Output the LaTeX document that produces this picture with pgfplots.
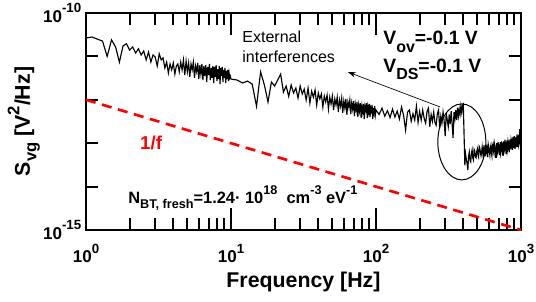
\documentclass[border=0pt]{standalone}
\usepackage{fontspec}
\setmainfont{Liberation Sans}
\usepackage{pgfplots}
\pgfplotsset{compat=1.18}
\usetikzlibrary{arrows.meta}
\newcommand{\SP}[3]{\raisebox{#1}{\fontsize{#2}{#2}\selectfont #3}}
\begin{document}
\begin{tikzpicture}
\begin{axis}[
 scale only axis, width=326.25pt, height=162.75pt,
 xmode=log, ymode=log,
 xmin=1, xmax=1000, ymin=1e-15, ymax=1e-10,
 xtick={1,10,100,1000},
 xticklabels={10\SP{0.55em}{10}{0},10\SP{0.55em}{10}{1},10\SP{0.55em}{10}{2},10\SP{0.55em}{10}{3}},
 ytick={1e-15,1e-14,1e-13,1e-12,1e-11,1e-10},
 yticklabels={10\SP{0.55em}{10}{-15},,,,,10\SP{0.55em}{10}{-10}},
 yminorticks=false,
 tick align=inside,
 xtick style={/pgfplots/major tick length=16.5pt,/pgfplots/minor tick length=9pt},
 ytick style={/pgfplots/major tick length=9pt},
 tick style={line width=1.5pt, black},
 axis line style={line width=1.5pt},
 ticklabel style={font=\fontsize{12.8}{14}\selectfont\bfseries},
 xticklabel style={yshift=-7pt},
 xlabel={Frequency [Hz]},
 ylabel={S\SP{-0.3em}{12.5}{vg} [V\SP{0.5em}{12.5}{2}/Hz]},
 label style={font=\fontsize{16}{18}\selectfont\bfseries},
 xlabel style={at={(axis description cs:0.5,-0.239)}, anchor=center},
 ylabel style={at={(axis description cs:-0.143,0.5)}, anchor=center},
]
\addplot[red, line width=2pt, dash pattern=on 7.5pt off 5pt] coordinates {(1,1e-12) (1000,1e-15)};
\addplot[black, line width=0.85pt] table {
f S
1.0 2.65e-11
1.1 2.8e-11
1.2 2.5e-11
1.3 2.25e-11
1.4 1.0e-11
1.5 2.4e-11
1.6 1.65e-11
1.7 7.4e-12
1.8 1.75e-11
1.9 1.95e-11
2.0 1.4e-11
2.1 1.65e-11
2.2 1.2e-11
2.3 1.5e-11
2.4 1.08e-11
2.5 1.33e-11
2.6 8.3e-12
2.7 1.26e-11
2.8 7.4e-12
2.9 1.08e-11
3.0 9.7e-12
3.1 6.0e-12
3.2 1.15e-11
3.3 8.3e-12
3.4 9.2e-12
3.5 5.4e-12
3.6 7.4e-12
3.7 4.15e-12
3.8 6.7e-12
3.9 4.9e-12
4.0 7.05e-12
4.1 3.9e-12
4.2 6.0e-12
4.3 6.7e-12
4.4 4.4e-12
4.5 7.4e-12
4.6 4.9e-12
4.7 8.3e-12
4.8 3.7e-12
4.9 7.8e-12
5.0 4.4e-12
5.1 7.05e-12
5.2 3.4e-12
5.3 6.7e-12
5.4 4.9e-12
5.5 7.4e-12
5.6 3.2e-12
5.7 6.0e-12
5.8 4.4e-12
5.9 7.05e-12
6.0 3.0e-12
6.1 6.3e-12
6.2 3.9e-12
6.3 6.7e-12
6.4 2.86e-12
6.5 6.0e-12
6.6 3.5e-12
6.7 6.3e-12
6.8 2.57e-12
6.9 5.7e-12
7.0 3.7e-12
7.1 6.7e-12
7.2 2.86e-12
7.3 5.4e-12
7.4 3.2e-12
7.5 6.0e-12
7.6 2.44e-12
7.7 5.7e-12
7.8 3.4e-12
7.9 6.3e-12
8.0 2.7e-12
8.1 5.1e-12
8.2 3.0e-12
8.3 6.0e-12
8.4 2.3e-12
8.5 5.4e-12
8.6 3.5e-12
8.7 5.7e-12
8.8 2.57e-12
8.9 4.9e-12
9.0 3.2e-12
9.1 5.4e-12
9.2 2.44e-12
9.3 4.6e-12
9.4 3.0e-12
9.5 4.9e-12
9.6 2.7e-12
9.7 4.15e-12
9.8 3.2e-12
9.9 3.5e-12
10 3.0e-12
11 2.86e-12
12 2.44e-12
13 2.7e-12
14 2.3e-12
15 7.1e-13
16 4.4e-12
17 2.19e-12
18 8.9e-13
19 2.57e-12
20 2.08e-12
21 2.86e-12
22 3.9e-12
23 1.5e-12
24 2.08e-12
25 1.2e-12
26 2.19e-12
27 1.44e-12
28 1.86e-12
29 1.1e-12
30 2.08e-12
31 1.36e-12
32 1.76e-12
33 9.9e-13
34 1.86e-12
35 8.4e-13
36 1.58e-12
37 1.15e-12
38 1.68e-12
39 7.6e-13
40 1.44e-12
41 1.05e-12
42 1.36e-12
43 6.8e-13
44 1.22e-12
45 8.9e-13
46 1.29e-12
47 6.1e-13
48 1.15e-12
49 8.0e-13
50 1.22e-12
51 5.8e-13
52 1.05e-12
53 7.6e-13
54 1.15e-12
55 5.2e-13
56 9.9e-13
57 7.1e-13
58 1.1e-12
59 5.0e-13
60 9.4e-13
61 6.4e-13
62 1.05e-12
63 4.5e-13
64 8.9e-13
65 6.8e-13
66 9.9e-13
67 4.7e-13
68 8.4e-13
69 6.1e-13
70 9.4e-13
71 4.2e-13
72 8.0e-13
73 5.8e-13
74 8.9e-13
75 4.0e-13
76 7.6e-13
77 5.5e-13
78 8.4e-13
79 3.8e-13
80 7.1e-13
81 5.2e-13
82 8.0e-13
83 3.6e-13
84 7.1e-13
85 5.8e-13
86 8.4e-13
87 3.8e-13
88 6.8e-13
89 5.2e-13
90 8.0e-13
91 4.0e-13
92 6.4e-13
93 5.5e-13
94 7.6e-13
95 3.6e-13
96 6.4e-13
97 5.0e-13
98 7.1e-13
99 4.5e-13
100 5.8e-13
105 4.6e-13
110 6.4e-13
115 4.2e-13
120 5.6e-13
125 3.9e-13
130 6.1e-13
135 4.0e-13
140 5.5e-13
145 3.6e-13
150 6.8e-13
155 4.4e-13
160 2.0e-13
165 5.2e-13
170 5.8e-13
175 3.2e-13
180 4.8e-13
185 3.4e-13
190 7.1e-13
195 3.0e-13
200 5.4e-13
205 3.4e-13
210 5.8e-13
215 3.7e-13
220 2.9e-13
225 5.4e-13
230 6.4e-13
235 2.4e-13
240 4.6e-13
245 3.2e-13
250 5.2e-13
255 3.0e-13
260 2.6e-13
265 4.8e-13
270 5.8e-13
275 2.2e-13
280 4.2e-13
285 2.9e-13
290 5.2e-13
295 3.3e-13
300 1.45e-13
305 5.0e-13
310 3.4e-13
315 2.4e-13
320 4.6e-13
325 2.75e-13
330 5.5e-13
335 2.8e-13
340 1.32e-13
345 5.2e-13
350 3.6e-13
355 5.8e-13
360 3.4e-13
365 6.6e-13
370 4.2e-13
375 6.1e-13
380 4.6e-13
385 7.2e-13
390 5.2e-13
395 7.6e-13
400 8.0e-13
410 3.1e-14
415 5.6e-14
420 4.2e-14
425 3.4e-14
430 2.4e-14
435 5.0e-14
440 6.2e-14
445 4.0e-14
450 3.7e-14
455 5.8e-14
460 7.0e-14
465 4.6e-14
470 4.1e-14
475 7.2e-14
480 6.6e-14
485 4.8e-14
490 4.6e-14
495 6.4e-14
500 7.4e-14
505 5.4e-14
510 4.8e-14
515 8.4e-14
520 7.8e-14
525 6.0e-14
530 5.1e-14
535 6.2e-14
540 8.2e-14
545 6.0e-14
550 4.6e-14
555 9.0e-14
560 7.4e-14
565 5.6e-14
570 5.3e-14
575 8.0e-14
580 8.6e-14
585 5.8e-14
590 4.8e-14
595 9.2e-14
600 7.8e-14
605 6.4e-14
610 5.3e-14
615 8.0e-14
620 9.0e-14
625 6.0e-14
630 5.1e-14
635 8.8e-14
640 9.5e-14
645 6.8e-14
650 5.9e-14
655 1.0e-13
660 8.6e-14
665 6.4e-14
670 4.6e-14
675 7.8e-14
680 1.0e-13
685 5.6e-14
690 6.2e-14
695 1.05e-13
700 9.0e-14
705 6.8e-14
710 5.3e-14
715 8.6e-14
720 1.06e-13
725 5.8e-14
730 6.6e-14
735 1.1e-13
740 9.5e-14
745 7.0e-14
750 5.1e-14
755 9.0e-14
760 1.1e-13
765 6.4e-14
770 7.0e-14
775 1.2e-13
780 1.0e-13
785 7.6e-14
790 5.6e-14
795 9.4e-14
800 1.16e-13
805 6.6e-14
810 7.4e-14
815 1.15e-13
820 1.06e-13
825 7.8e-14
830 6.2e-14
835 1.0e-13
840 1.22e-13
845 7.2e-14
850 8.2e-14
855 1.25e-13
860 1.16e-13
865 8.4e-14
870 7.0e-14
875 1.1e-13
880 1.39e-13
885 7.6e-14
890 8.6e-14
895 1.2e-13
900 1.45e-13
905 9.0e-14
910 7.4e-14
915 1.3e-13
920 1.32e-13
925 8.0e-14
930 9.0e-14
935 1.25e-13
940 1.6e-13
945 9.6e-14
950 8.2e-14
955 1.4e-13
960 1.45e-13
965 8.8e-14
970 9.5e-14
975 1.3e-13
980 2.1e-13
985 1.0e-13
990 1.16e-13
995 1.35e-13
1000 1.5e-13
};
\node[anchor=base west, font=\fontsize{14}{16}\selectfont\bfseries, text=red, inner sep=0pt] at (axis description cs:0.124,0.369) {1/f};
\node[anchor=base west, font=\fontsize{14.5}{16}\selectfont\bfseries, inner sep=0pt] at (axis description cs:0.683,0.853) {V\SP{-0.4em}{12}{ov}=-0.1 V};
\node[anchor=base west, font=\fontsize{14.5}{16}\selectfont\bfseries, inner sep=0pt] at (axis description cs:0.683,0.728) {V\SP{-0.4em}{12}{DS}=-0.1 V};
\node[anchor=base west, font=\fontsize{12}{14}\selectfont, inner sep=0pt] at (axis description cs:0.359,0.862) {External};
\node[anchor=base west, font=\fontsize{12}{14}\selectfont, inner sep=0pt] at (axis description cs:0.359,0.77) {interferences};
\node[anchor=base west, font=\fontsize{12.3}{14}\selectfont\bfseries, inner sep=0pt] at (axis description cs:0.0966,0.124) {N\SP{-0.35em}{9.5}{BT, fresh}=1.24· 10\SP{0.5em}{9.5}{18}~ cm\SP{0.5em}{9.5}{-3} eV\SP{0.5em}{9.5}{-1}};
\draw[-{Stealth[length=6pt,width=4pt]}, line width=0.5pt] (axis description cs:0.814,0.567) -- (axis description cs:0.602,0.728);
\draw[line width=0.75pt] (axis description cs:0.864,0.406) ellipse [x radius=18pt, y radius=28.5pt];
\end{axis}
\pgfresetboundingbox
\useasboundingbox (-64.5pt,-54pt) rectangle (337.5pt,172.5pt);
\end{tikzpicture}
\end{document}
